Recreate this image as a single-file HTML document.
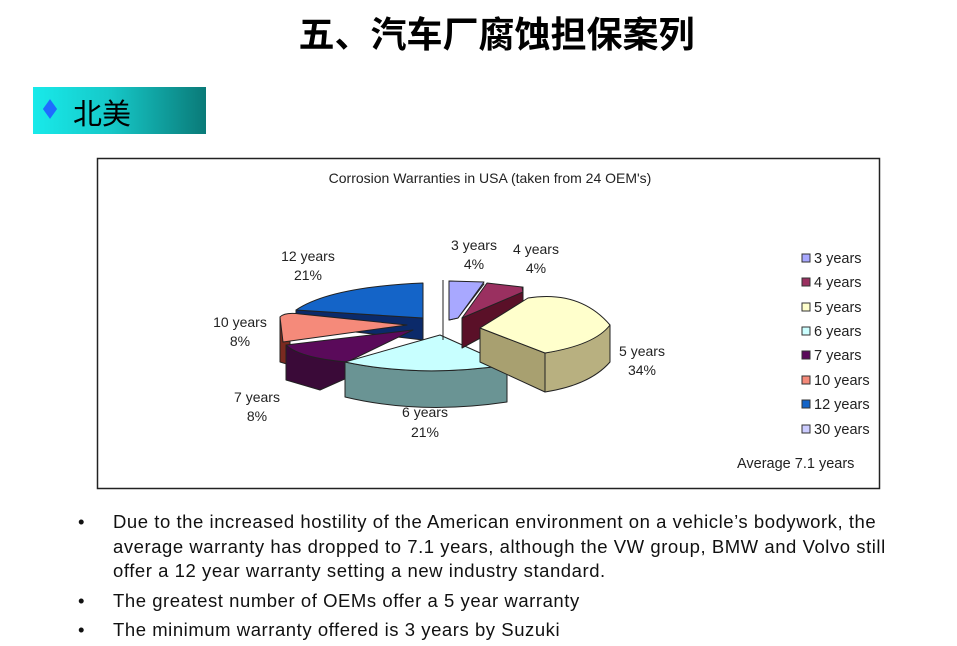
<!DOCTYPE html>
<html><head><meta charset="utf-8"><style>
body{margin:0;background:#fff;width:957px;height:646px;overflow:hidden;position:relative;font-family:"Liberation Sans","Noto Sans CJK SC",sans-serif}
.t{position:absolute;left:0;width:993px;text-align:center;top:6px;font-size:36px;font-weight:bold;color:#000;font-family:"Noto Sans CJK SC","WenQuanYi Zen Hei",sans-serif}
.hd{position:absolute;left:33px;top:87px;width:173px;height:47px;background:linear-gradient(90deg,#18eaea 0%,#16c8c8 45%,#0a7a78 100%)}
.hd span{position:absolute;left:40px;top:4px;font-size:29px;color:#000;font-family:"Noto Sans CJK SC",sans-serif}
.dm{position:absolute;left:12px;top:17px;width:10px;height:10px;background:#1e6bff;transform:scaleY(1.4) rotate(45deg)}
ul{position:absolute;left:78px;top:510px;width:830px;margin:0;padding:0;list-style:none;font-size:18.5px;letter-spacing:0.55px;color:#111;line-height:24.5px}
li{position:relative;padding-left:35px}
li:before{content:"•";position:absolute;left:0}
</style></head><body>
<div class="t">五、汽车厂腐蚀担保案列</div>
<div class="hd"><div class="dm"></div><span>北美</span></div>
<svg width="957" height="646" style="position:absolute;left:0;top:0" font-family="Liberation Sans, sans-serif">
<rect x="97.5" y="158.5" width="782" height="330" fill="#fff" stroke="#222" stroke-width="1.5"/>
<text x="490" y="183" font-size="14" text-anchor="middle" fill="#222">Corrosion Warranties in USA (taken from 24 OEM's)</text>
<g stroke="#222" stroke-width="1" stroke-linejoin="round">
<path d="M296,310 L296,325 L423,340 L423,318 Z" fill="#0b2a6a"/>
<path d="M296,310 Q330,287 423,283 L423,318 Z" fill="#1464c8"/>
<path d="M280,317 L280,362 L290,365 L290,338 Z" fill="#7a2a20"/>
<path d="M280,317 Q285,312 300,314 L407,325 L283,342 Z" fill="#f58a7a"/>
<path d="M286,345 L286,380 L320,390 L347,378 L347,362 Z" fill="#3a0a38"/>
<path d="M286,345 L413,330 L347,362 Q300,358 286,345 Z" fill="#5a0a5a"/>
<path d="M345,362 L345,397 Q420,415 507,402 L507,365 Q420,378 345,362 Z" fill="#6a9494"/>
<path d="M345,362 L440,335 L507,365 Q420,378 345,362 Z" fill="#c8ffff"/>
<path d="M449,281 L449,320 L458,318 L484,284 Z" fill="#7a80c0"/>
<path d="M449,281 L484,282 L458,318 L449,320 Z" fill="#a8a8ff"/>
<path d="M462,318 L462,348 L523,315 L523,287 Z" fill="#5a1028"/>
<path d="M487,283 L522,287 L523,292 L462,318 Z" fill="#9a3060"/>
<path d="M480,328 L480,362 L545,392 L545,353 Z" fill="#a8a070"/>
<path d="M545,353 L545,392 Q590,385 610,362 L610,325 Q590,345 545,353 Z" fill="#b8b080"/>
<path d="M480,328 L528,298 Q580,290 610,325 Q595,345 545,353 Z" fill="#ffffcc"/>
</g>
<line x1="443" y1="280" x2="443" y2="340" stroke="#222"/>
<g font-size="14" fill="#222" text-anchor="middle">
<text x="474" y="250">3 years</text><text x="474" y="269">4%</text>
<text x="536" y="254">4 years</text><text x="536" y="273">4%</text>
<text x="308" y="261">12 years</text><text x="308" y="280">21%</text>
<text x="240" y="327">10 years</text><text x="240" y="346">8%</text>
<text x="642" y="356">5 years</text><text x="642" y="375">34%</text>
<text x="257" y="402">7 years</text><text x="257" y="421">8%</text>
<text x="425" y="417">6 years</text><text x="425" y="437">21%</text>
</g>
<g font-size="14.5" fill="#222" stroke-width="1">
<rect x="802" y="254" width="8" height="8" fill="#a8a8ff" stroke="#333"/><text x="814" y="263">3 years</text>
<rect x="802" y="278" width="8" height="8" fill="#9a3060" stroke="#333"/><text x="814" y="287">4 years</text>
<rect x="802" y="303" width="8" height="8" fill="#ffffcc" stroke="#333"/><text x="814" y="312">5 years</text>
<rect x="802" y="327" width="8" height="8" fill="#ccffff" stroke="#333"/><text x="814" y="336">6 years</text>
<rect x="802" y="351" width="8" height="8" fill="#5a0a5a" stroke="#333"/><text x="814" y="360">7 years</text>
<rect x="802" y="376" width="8" height="8" fill="#f58a7a" stroke="#333"/><text x="814" y="385">10 years</text>
<rect x="802" y="400" width="8" height="8" fill="#1464c8" stroke="#333"/><text x="814" y="409">12 years</text>
<rect x="802" y="425" width="8" height="8" fill="#ccccff" stroke="#333"/><text x="814" y="434">30 years</text>
<text x="737" y="468">Average 7.1 years</text>
</g>
</svg>
<ul>
<li>Due to the increased hostility of the American environment on a vehicle’s bodywork, the average warranty has dropped to 7.1 years, although the VW group, BMW and Volvo still offer a 12 year warranty setting a new industry standard.</li>
<li style="margin-top:5px">The greatest number of OEMs offer a 5 year warranty</li>
<li style="margin-top:5px">The minimum warranty offered is 3 years by Suzuki</li>
</ul>
</body></html>
